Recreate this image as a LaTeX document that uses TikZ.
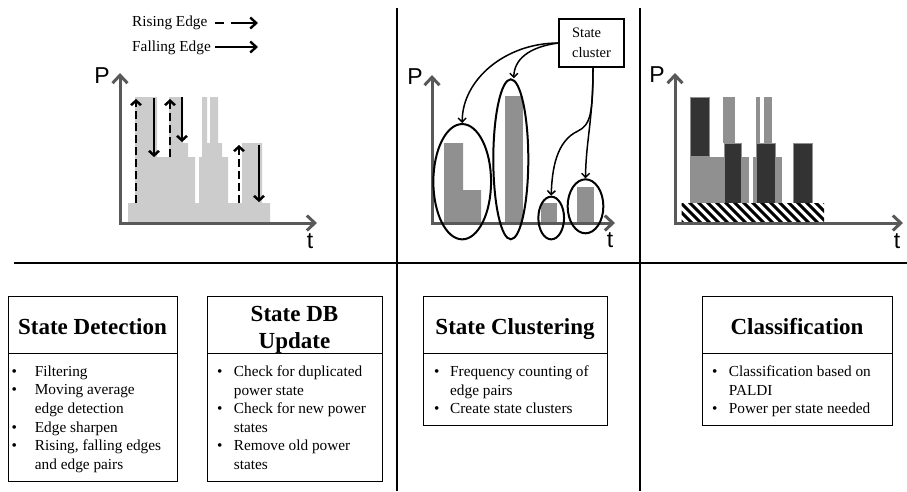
\documentclass[tikz,border=0pt]{standalone}
\usepackage{fontspec}
\setmainfont{Liberation Serif}
\newfontfamily\axfont{Liberation Sans}
\usetikzlibrary{arrows.meta,shapes.geometric}
\definecolor{axgray}{HTML}{595959}
\definecolor{lightbar}{HTML}{CCCCCC}
\definecolor{midbar}{HTML}{909090}
\definecolor{darkbar}{HTML}{333333}
\newcommand\mybul[1]{\makebox[#1][l]{\textbullet}}
\newcommand\myind[1]{\hspace*{#1}}
\begin{document}
\begin{tikzpicture}[x=1pt,y=-1pt,
  divider/.style={line width=2.6pt},
  axis/.style={draw=axgray, line width=3pt, line join=miter,
    arrows={Straight Barb[length=8pt,width=15pt]-Straight Barb[length=8pt,width=15pt]}},
  axlabel/.style={font=\axfont\fontsize{23}{23}\selectfont, inner sep=0pt},
  risearrow/.style={line width=2.5pt, dash pattern=on 8pt off 4pt, -{Straight Barb[length=4.5pt,width=10pt]}},
  fallarrow/.style={line width=2.5pt, -{Straight Barb[length=4.5pt,width=10pt]}},
  legrise/.style={line width=2.4pt, dash pattern=on 9pt off 7pt on 40pt, -{Straight Barb[length=6pt,width=11pt]}},
  legfall/.style={line width=2.4pt, -{Straight Barb[length=6pt,width=11pt]}},
  legtext/.style={font=\fontsize{15.3}{18}\selectfont, inner sep=0pt, anchor=west},
  cluster/.style={draw, ellipse, line width=2pt, inner sep=0pt},
  clarrow/.style={line width=1.5pt, -{Straight Barb[length=4pt,width=8pt]}},
  darkrect/.style={fill=darkbar, draw=midbar, line width=0.8pt},
  boxframe/.style={draw, line width=1.2pt, inner sep=0pt, anchor=north west},
  titletext/.style={font=\bfseries\fontsize{23}{27}\selectfont, inner sep=0pt},
  bodytext/.style={font=\fontsize{15.3}{18.6}\selectfont, align=left, inner sep=0pt, anchor=north west}
]
\useasboundingbox (0,0) rectangle (907,491);

% dividers
\draw[divider] (14,263) -- (907,263);
\draw[divider] (397,8) -- (397,491);
\draw[divider] (640,8) -- (640,491);

% ---------- Panel 1 ----------
\node[legtext] (lr) at (132,23) {Rising Edge};
\node[legtext] (lf) at (132,48) {Falling Edge};
\coordinate (lra) at (215,23); \coordinate (lrb) at (258,23);
\coordinate (lfa) at (215,47); \coordinate (lfb) at (258,47);
\draw[legrise] (lra) -- (lrb);
\draw[legfall] (lfa) -- (lfb);

\fill[lightbar] (128,223) -- (128,203) -- (135,203) -- (135,97) -- (157,97) -- (157,157)
  -- (169,157) -- (169,97) -- (183,97) -- (183,143) -- (188,143) -- (188,157)
  -- (195,157) -- (195,203) -- (199,203) -- (199,157) -- (202,157) -- (202,97)
  -- (207,97) -- (207,143) -- (210,143) -- (210,97) -- (218,97) -- (218,143)
  -- (222,143) -- (222,157) -- (228,157) -- (228,203) -- (242,203) -- (242,143)
  -- (262,143) -- (262,203) -- (270,203) -- (270,223) -- cycle;

\draw[risearrow] (136,203) -- (136,99);
\draw[risearrow] (170,157) -- (170,99);
\draw[risearrow] (239,203) -- (239,145);
\draw[fallarrow] (154,98) -- (154,157);
\draw[fallarrow] (182,97) -- (182,142);
\draw[fallarrow] (259,145) -- (259,202);

\draw[axis] (120,73) -- (120,223) -- (317,223);
\node[axlabel] (p1) at (102,76) {P};
\node[axlabel] (t1) at (310,241) {t};

% ---------- Panel 2 ----------
\fill[midbar] (444,223) -- (444,143) -- (463,143) -- (463,190) -- (481,190) -- (481,223) -- cycle;
\fill[midbar] (505,96) rectangle (523,223);
\fill[midbar] (541,203) rectangle (557,223);
\fill[midbar] (577,187) rectangle (594,223);
\draw[axis] (432,75) -- (432,223) -- (615,223);
\node[axlabel] (p2) at (415,77) {P};
\node[axlabel] (t2) at (610,240) {t};

\node[cluster, minimum width=57.7pt, minimum height=115.3pt] (e1) at (462.2,181.7) {};
\node[cluster, minimum width=35pt, minimum height=160pt] (e2) at (510.8,159.3) {};
\node[cluster, minimum width=25.7pt, minimum height=42.7pt] (e3) at (551.2,218) {};
\node[cluster, minimum width=35.7pt, minimum height=54pt] (e4) at (585.5,206.3) {};

\node[draw, line width=1.2pt, fill=white, minimum width=65pt, minimum height=48pt, inner sep=0pt,
  align=left, font=\fontsize{14.5}{20}\selectfont] (sc) at (591.5,43) {State\\cluster};

\draw[clarrow] (sc.west) .. controls (505,43) and (462,80) .. (e1.north);
\draw[clarrow] (sc.west) .. controls (528,47) and (514,60) .. ([xshift=3pt]e2.north);
\draw[clarrow] ([xshift=1.5pt]sc.south) .. controls (593,115) and (590,125) .. (578,131)
  .. controls (556,141) and (552,170) .. (e3.north);
\draw[clarrow] ([xshift=1.5pt]sc.south) .. controls (593,120) and (586,140) .. (e4.north);

% ---------- Panel 3 ----------
\fill[midbar] (690,157) rectangle (724,203);
\fill[midbar] (723,97) rectangle (735,143);
\fill[midbar] (741.7,157) rectangle (749,203);
\fill[midbar] (753.3,157) rectangle (761,203);
\fill[midbar] (756,97) rectangle (760,143);
\fill[midbar] (764,97) rectangle (771.7,143);
\fill[midbar] (775.7,157) rectangle (782.3,203);
\draw[darkrect] (690,97.3) rectangle (709.3,156.7);
\draw[darkrect] (724,143.3) rectangle (741.7,203);
\draw[darkrect] (756.7,143.3) rectangle (775.7,203);
\draw[darkrect] (793.3,143.3) rectangle (812.3,203);
\begin{scope}
  \clip (681.7,203.3) rectangle (824,223);
  \fill[white] (681.7,203.3) rectangle (824,223);
  \foreach \sx in {660,669,...,830} {
    \draw[line width=3pt] (\sx,200) -- (\sx+26,226);
  }
\end{scope}
\draw[axis] (675,73) -- (675,223) -- (903,223);
\node[axlabel] (p3) at (657,75) {P};
\node[axlabel] (t3) at (897,241) {t};

% ---------- Bottom boxes ----------
\node[boxframe, minimum width=169pt, minimum height=57pt] (h1) at (8,296) {};
\node[boxframe, minimum width=169pt, minimum height=128pt] (b1) at (8,353) {};
\node[boxframe, minimum width=175pt, minimum height=57pt] (h2) at (207,296) {};
\node[boxframe, minimum width=175pt, minimum height=128pt] (b2) at (207,353) {};
\node[boxframe, minimum width=184pt, minimum height=57pt] (h3) at (423,296) {};
\node[boxframe, minimum width=184pt, minimum height=72pt] (b3) at (423,353) {};
\node[boxframe, minimum width=190pt, minimum height=57pt] (h4) at (702,296) {};
\node[boxframe, minimum width=190pt, minimum height=72pt] (b4) at (702,353) {};

\node[titletext, anchor=base] (tt1) at (92.5,334) {State Detection};
\node[titletext, anchor=north, align=center] (tt2) at (294.5,306.5) {State DB\\Update};
\node[titletext, anchor=base] (tt3) at (515,334) {State Clustering};
\node[titletext, anchor=base] (tt4) at (797,334) {Classification};

\node[bodytext] (l1) at (11.5,365.5) {\mybul{23.2pt}Filtering\\
  \mybul{23.2pt}Moving average\\
  \myind{23.2pt}edge detection\\
  \mybul{23.2pt}Edge sharpen\\
  \mybul{23.2pt}Rising, falling edges\\
  \myind{23.2pt}and edge pairs};
\node[bodytext] (l2) at (217,365.5) {\mybul{16.7pt}Check for duplicated\\
  \myind{16.7pt}power state\\
  \mybul{16.7pt}Check for new power\\
  \myind{16.7pt}states\\
  \mybul{16.7pt}Remove old power\\
  \myind{16.7pt}states};
\node[bodytext] (l3) at (434,365.5) {\mybul{16pt}Frequency counting of\\
  \myind{16pt}edge pairs\\
  \mybul{16pt}Create state clusters};
\node[bodytext] (l4) at (712,365.5) {\mybul{16.7pt}Classification based on\\
  \myind{16.7pt}PALDI\\
  \mybul{16.7pt}Power per state needed};
\end{tikzpicture}
\end{document}
